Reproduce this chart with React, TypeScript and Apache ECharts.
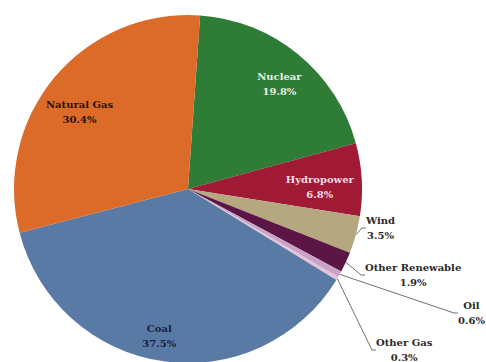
import React, { useEffect, useRef } from "react";
import * as echarts from "echarts";

// ---- data ----
const categories = [
  "Nuclear",
  "Hydropower",
  "Wind",
  "Other Renewable",
  "Oil",
  "Other Gas",
  "Coal",
  "Natural Gas",
];
const shares = [19.8, 6.8, 3.5, 1.9, 0.6, 0.3, 37.5, 30.4];
const insideLabelled = ["Nuclear", "Hydropower", "Coal", "Natural Gas"];

// ---- styles ----
const sliceColors: Record<string, string> = {
  Nuclear: "#2f7c37",
  Hydropower: "#a01935",
  Wind: "#b5a880",
  "Other Renewable": "#5b1646",
  Oil: "#c9a3c6",
  "Other Gas": "#e3c4d8",
  Coal: "#5a7aa6",
  "Natural Gas": "#dc6a28",
};
const insideTextColors: Record<string, string> = {
  Nuclear: "#e4f1e2",
  Hydropower: "#f8dde3",
  Coal: "#16213b",
  "Natural Gas": "#2a1207",
};
// nudges [dx, dy] for the inside labels, relative to the library's placement
const insideNudge: Record<string, [number, number]> = {
  Nuclear: [2, 4],
  Hydropower: [-9, 6],
  Coal: [-8, 8],
  "Natural Gas": [0, 13],
};
// left / vertical-middle anchor of each outside label box
const outsideLabelBoxes: Record<string, [number, number]> = {
  Wind: [366, 228],
  "Other Renewable": [365, 275],
  Oil: [458, 313],
  "Other Gas": [376, 350],
};

const FONT = "'DejaVu Serif', serif";

export default function App() {
  const ref = useRef<HTMLDivElement>(null);
  useEffect(() => {
    const chart = echarts.init(ref.current!, null, { renderer: "svg" });
    const center = [188, 189];
    chart.setOption({
      animation: false,
      backgroundColor: "#ffffff",
      series: [
        {
          type: "pie",
          center,
          radius: 174,
          startAngle: 86,
          clockwise: true,
          silent: true,
          avoidLabelOverlap: false,
          data: categories.map((c, i) => ({
            name: c,
            value: shares[i],
            itemStyle: { color: sliceColors[c] },
            label: { show: !insideLabelled.includes(c) },
            labelLine: { show: !insideLabelled.includes(c) },
          })),
          label: {
            position: "outside",
            edgeDistance: 0,
            overflow: "none",
            distanceToLabelLine: 2,
            formatter: (p: any) => `{a|${p.name}}\n{a|${p.value.toFixed(1)}%}`,
            rich: {
              a: {
                fontFamily: FONT,
                fontSize: 10,
                fontWeight: "bold",
                color: "#2b2b2b",
                align: "center",
                lineHeight: 15,
              },
            },
          },
          labelLine: {
            length: 4,
            length2: 4,
            lineStyle: { color: "#707070", width: 1 },
          },
          labelLayout: (p: any) => {
            const pos = outsideLabelBoxes[categories[p.dataIndex]];
            return pos
              ? { x: pos[0], y: pos[1], align: "left", verticalAlign: "middle" }
              : {};
          },
        },
        {
          type: "pie",
          center,
          radius: [102, 174],
          startAngle: 86,
          clockwise: true,
          silent: true,
          avoidLabelOverlap: false,
          itemStyle: { color: "rgba(0,0,0,0)" },
          labelLine: { show: false },
          data: categories.map((c, i) => ({
            name: c,
            value: shares[i],
            label: {
              show: insideLabelled.includes(c),
              color: insideTextColors[c] || "#000",
            },
          })),
          label: {
            position: "inside",
            fontFamily: FONT,
            fontSize: 10,
            fontWeight: "bold",
            lineHeight: 15,
            align: "center",
            formatter: (p: any) => `${p.name}\n${p.value.toFixed(1)}%`,
          },
          labelLayout: (p: any) => {
            const n = insideNudge[categories[p.dataIndex]];
            const r = p.labelRect;
            if (!n || !r) return {};
            return {
              x: r.x + r.width / 2 + n[0],
              y: r.y + r.height / 2 + n[1],
              align: "center",
              verticalAlign: "middle",
            };
          },
        },
      ],
    });
    return () => chart.dispose();
  }, []);
  return (
    <div
      ref={ref}
      style={{ position: "absolute", left: 0, top: 0, width: 486, height: 362 }}
    />
  );
}
